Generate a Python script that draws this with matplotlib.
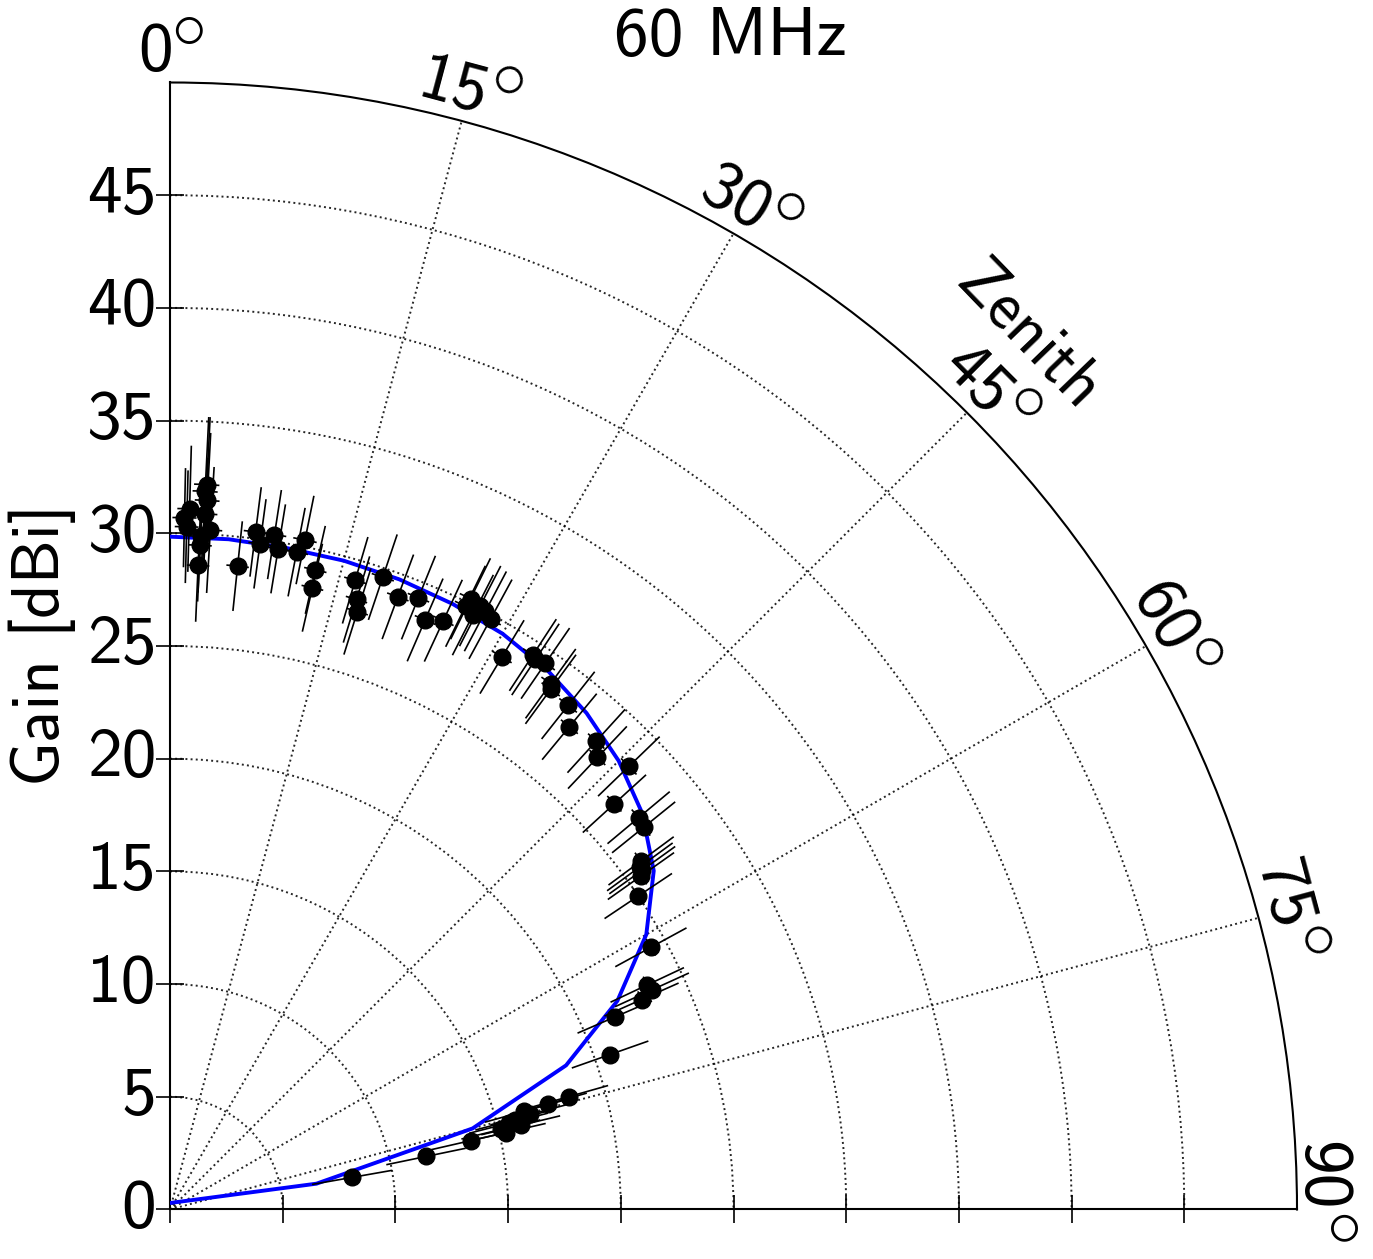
import numpy as np
import matplotlib
matplotlib.use("Agg")
import matplotlib.pyplot as plt

plt.rcParams['font.family'] = ['cmss10', 'DejaVu Sans']
plt.rcParams['mathtext.fontset'] = 'cm'
plt.rcParams['axes.unicode_minus'] = False

# ---- data ----
model_zenith = [0, 5, 10, 15, 20, 25, 30, 35, 40, 45, 50, 55, 60, 65, 70, 75, 80, 85]
model_gain = [29.85, 29.85, 29.8, 29.8, 29.75, 29.65, 29.5, 29.2, 28.75, 28.15,
              27.35, 26.2, 24.4, 21.9, 18.7, 13.9, 6.6, -6.5]

meas_zenith = [1.2, 1.4, 2.8, 3.0, 3.4, 2.6, 2.5, 1.6, 2.9, 2.6, 2.9,
               6.0, 7.2, 7.7, 8.8, 9.3, 10.9, 11.4, 12.8, 12.9,
               16.4, 17.0, 17.4, 18.6, 20.4, 22.1, 23.4, 24.9, 26.1, 27.2, 28.5,
               26.2, 27.0, 27.8,
               31.0, 33.2, 34.5, 36.2, 38.3, 39.6, 42.3, 43.4, 46.0, 47.6, 35.9, 33.6,
               50.1, 51.1, 53.9, 54.7, 56.2, 53.5, 54.3,
               61.4, 65.5, 66.0, 66.6, 64.8, 70.6,
               74.2, 74.4, 74.5, 76.5, 75.7, 76.4, 77.1, 78.3, 80.0, 75.4, 75.2, 77.1]
meas_gain = [30.7, 30.3, 31.9, 31.5, 30.2, 29.5, 28.6, 31.1, 30.9, 29.9, 32.2,
             28.7, 30.3, 29.8, 30.3, 29.7, 29.7, 30.3, 29.1, 28.3,
             29.1, 28.3, 27.8, 29.6, 29.0, 29.3, 28.5, 28.8, 29.8, 30.1, 29.8,
             30.2, 29.6, 30.0,
             28.6, 29.4, 29.4, 28.6, 28.5, 27.8, 28.1, 27.6, 28.3, 26.7, 28.8, 29.3,
             27.1, 27.0, 25.8, 25.6, 25.0, 26.0, 25.8,
             24.3, 23.5, 22.9, 21.5, 23.4, 20.7,
             18.4, 17.4, 16.3, 16.0, 15.5, 15.1, 13.7, 11.6, 8.2, 15.8, 16.5, 15.3]
meas_err = [2.2, 2.5, 3.3, 3.0, 2.8, 2.5, 2.5, 2.8, 2.5, 2.5, 3.0,
            2.0, 2.0, 2.0, 2.0, 2.0, 2.0, 2.0, 2.0, 2.0,
            2.0, 2.0, 2.0, 2.0, 2.0, 2.0, 2.0, 2.0, 2.0, 2.0, 2.0,
            2.0, 2.0, 2.0,
            1.9, 1.9, 1.9, 1.9, 1.9, 1.9, 1.9, 1.9, 1.9, 1.9, 1.9, 1.9,
            1.8, 1.8, 1.8, 1.8, 1.8, 1.8, 1.8,
            1.8, 1.8, 1.8, 1.8, 1.8, 1.8,
            1.8, 1.8, 1.8, 1.8, 1.8, 1.8, 1.8, 1.8, 1.8, 1.8, 1.8, 1.8]
angle_err_deg = 1.0

r_ticks = [0, 5, 10, 15, 20, 25, 30, 35, 40, 45]
theta_ticks = [0, 15, 30, 45, 60, 75, 90]

FS = 50

# ---- figure ----
fig = plt.figure(figsize=(13.73, 12.59), dpi=100)
ax = fig.add_axes([0.12382, 0.03892, 0.82083, 0.89595], projection='polar')
ax.set_theta_zero_location('N')
ax.set_theta_direction(-1)
ax.set_thetamin(0)
ax.set_thetamax(90)
ax.set_rlim(0, 50)

ax.set_thetagrids(theta_ticks, labels=[''] * len(theta_ticks))
ax.set_rgrids(r_ticks, labels=[str(v) for v in r_ticks])
ax.grid(True, linestyle=':', color='k', linewidth=1.4, alpha=0.85)
ax.tick_params(axis='y', labelsize=FS, left=True, right=True, direction='inout',
               length=10, width=1.2, pad=5)
ax.tick_params(axis='x', direction='in', length=6, width=1)
for sp in ax.spines.values():
    sp.set_linewidth(1.5)
    sp.set_color('k')

# model curve (drawn in projected coordinates so the below-zero tail behaves as in the original)
th = np.deg2rad(np.array(model_zenith))
rg = np.array(model_gain)
trans = ax.transProjectionAffine + ax.transWedge + ax.transAxes
ax.plot(rg * np.sin(th), rg * np.cos(th), color='b', lw=2.8, transform=trans, zorder=3)

ax.errorbar(np.deg2rad(meas_zenith), meas_gain, yerr=meas_err,
            xerr=np.deg2rad(angle_err_deg), fmt='o', color='k', ms=12,
            elinewidth=1.2, capsize=0, zorder=4)

# angle labels: digits + large degree ring, rotated tangentially
px2pt = 72.0 / 100.0
em = FS / px2pt
digit_w = 0.47 * em
ring_w = 0.42 * em
gap = -0.02 * em
digit_h = 0.69 * em
raise_ring = 0.35 * em
for t in theta_ticks:
    n = len(str(t))
    wd = n * digit_w
    xc = (gap + ring_w - wd) / 2.0
    a = np.deg2rad(-t)
    u = np.array([np.cos(a), np.sin(a)])
    v = np.array([-np.sin(a), np.cos(a)])
    j = -xc * u - (digit_h / 2.0) * v
    ring = j + gap * u + raise_ring * v
    pos = (np.deg2rad(min(t, 89.1)), 51.6 if t < 90 else 51.35)
    ax.annotate(str(t), xy=pos, xytext=tuple(j * px2pt),
                textcoords='offset points', fontsize=FS, rotation=-t,
                ha='right', va='baseline', rotation_mode='anchor',
                annotation_clip=False)
    ax.annotate(r'$\circ$', xy=pos, xytext=tuple(ring * px2pt),
                textcoords='offset points', fontsize=FS, rotation=-t,
                ha='left', va='baseline', rotation_mode='anchor',
                annotation_clip=False)

ax.text(np.deg2rad(44.5), 54.3, 'Zenith', fontsize=48, rotation=-46,
        ha='center', va='center', rotation_mode='anchor')

fig.text(0.5317, 0.9706, '60 MHz', fontsize=FS, ha='center', va='center')
fig.text(0.0306, 0.4877, 'Gain [dBi]', fontsize=48, rotation=90, ha='center', va='center')

fig.savefig('out.png', dpi=100)
